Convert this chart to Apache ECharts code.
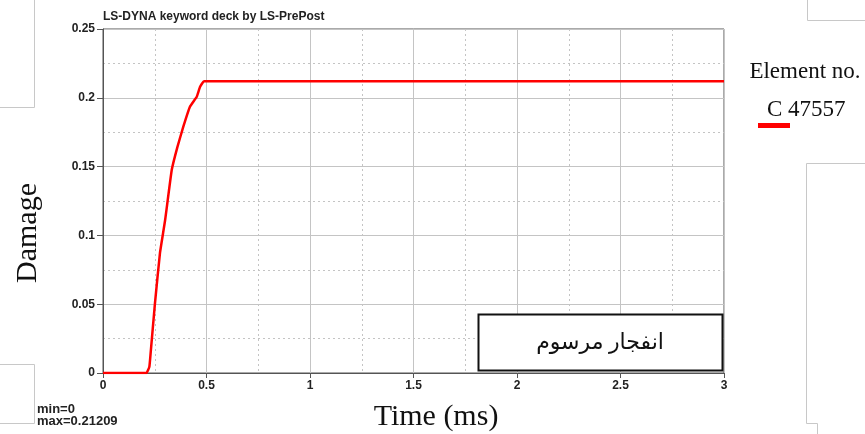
<!DOCTYPE html>
<html>
<head>
<meta charset="utf-8">
<script src="https://cdn.jsdelivr.net/npm/echarts@6/dist/echarts.min.js"></script>
<style>html,body{margin:0;padding:0;background:#fff}#c{width:865px;height:434px}</style>
</head>
<body>
<div id="c"></div>
<script>
// Data
const seriesName = 'C 47557';
const timeMs = [0, 0.21, 0.224, 0.230, 0.251, 0.275, 0.300, 0.332, 0.359, 0.388, 0.420, 0.453, 0.469, 0.488, 3];
const damage = [0, 0, 0.0046, 0.0143, 0.0506, 0.087, 0.111, 0.1475, 0.164, 0.179, 0.1935, 0.2008, 0.208, 0.21209, 0.21209];
const xTicks = { min: 0, max: 3, interval: 0.5 };
const yTicks = { min: 0, max: 0.25, interval: 0.05 };
const titleText = 'LS-DYNA keyword deck by LS-PrePost';
const xName = 'Time (ms)';
const yName = 'Damage';
const legendTitle = 'Element no.';
const boxText = 'انفجار مرسوم';
const minMaxText = ['min=0', 'max=0.21209'];

const points = timeMs.map((t, i) => [t, damage[i]]);
const chart = echarts.init(document.getElementById('c'), null, { renderer: 'canvas' });
const tickFont = { fontFamily: 'Liberation Sans, Arial, sans-serif', fontWeight: 'bold', fontSize: 12, color: '#222' };
const serif = "'Liberation Serif', 'Times New Roman', serif";
const faint = { stroke: '#c8c8c8', lineWidth: 1 };

chart.setOption({
  animation: false,
  backgroundColor: '#fff',
  grid: { left: 103, right: 141, top: 29, bottom: 61, show: true, borderColor: '#555', borderWidth: 1, backgroundColor: 'transparent' },
  xAxis: {
    type: 'value', min: xTicks.min, max: xTicks.max, interval: xTicks.interval,
    axisLine: { show: true, lineStyle: { color: '#555', width: 1 } },
    axisTick: { show: true, length: 5, lineStyle: { color: '#555' } },
    axisLabel: Object.assign({ margin: 7, formatter: v => String(v) }, tickFont),
    splitLine: { show: true, lineStyle: { color: '#c4c4c4', width: 1 } },
    minorTick: { show: false, splitNumber: 2 },
    minorSplitLine: { show: true, lineStyle: { color: '#c4c4c4', type: [2, 3], width: 1 } }
  },
  yAxis: {
    type: 'value', min: yTicks.min, max: yTicks.max, interval: yTicks.interval,
    axisLine: { show: true, lineStyle: { color: '#555', width: 1 } },
    axisTick: { show: true, length: 6, lineStyle: { color: '#555' } },
    axisLabel: Object.assign({ margin: 8, formatter: v => String(+v.toFixed(2)) }, tickFont),
    splitLine: { show: true, lineStyle: { color: '#c4c4c4', width: 1 } },
    minorTick: { show: false, splitNumber: 2 },
    minorSplitLine: { show: true, lineStyle: { color: '#c4c4c4', type: [2, 3], width: 1 } }
  },
  series: [{
    name: seriesName, type: 'line', data: points, showSymbol: false, smooth: 0.1,
    lineStyle: { color: '#ff0000', width: 2.5 }, z: 5
  }],
  graphic: [
    { type: 'text', left: 103, top: 11, style: { text: titleText, font: 'bold 12px Liberation Sans, Arial, sans-serif', fill: '#222' } },
    { type: 'text', x: 28, y: 233, rotation: Math.PI / 2, style: { text: yName, font: '30px ' + serif, fill: '#111', align: 'center', verticalAlign: 'middle' } },
    { type: 'text', x: 436, y: 417, style: { text: xName, font: '30px ' + serif, fill: '#111', align: 'center', verticalAlign: 'middle' } },
    { type: 'text', x: 37, y: 409, style: { text: minMaxText[0], font: 'bold 13px Liberation Sans, Arial, sans-serif', fill: '#222', verticalAlign: 'middle' } },
    { type: 'text', x: 37, y: 421, style: { text: minMaxText[1], font: 'bold 13px Liberation Sans, Arial, sans-serif', fill: '#222', verticalAlign: 'middle' } },
    { type: 'text', x: 805, y: 72, style: { text: legendTitle, font: '23px ' + serif, fill: '#111', align: 'center', verticalAlign: 'middle' } },
    { type: 'text', x: 767, y: 110, style: { text: seriesName, font: '23px ' + serif, fill: '#111', verticalAlign: 'middle' } },
    { type: 'line', shape: { x1: 758, y1: 125.5, x2: 790, y2: 125.5 }, style: { stroke: '#ff0000', lineWidth: 5 } },
    { type: 'rect', shape: { x: 478.5, y: 314.5, width: 244, height: 56 }, style: { fill: '#fff', stroke: '#111', lineWidth: 2 }, z: 10 },
    { type: 'text', x: 600, y: 343, style: { text: boxText, font: "22px 'Liberation Serif', 'DejaVu Sans', serif", fill: '#111', align: 'center', verticalAlign: 'middle' }, z: 11 },
    // faint slide frame remnants
    { type: 'polyline', shape: { points: [[34.5, 0], [34.5, 107.5], [0, 107.5]] }, style: faint },
    { type: 'polyline', shape: { points: [[0, 364.5], [34.5, 364.5], [34.5, 423.5], [0, 423.5]] }, style: faint },
    { type: 'polyline', shape: { points: [[807.5, 0], [807.5, 20.5], [865, 20.5]] }, style: faint },
    { type: 'polyline', shape: { points: [[865, 163.5], [806.5, 163.5], [806.5, 423.5], [817.5, 423.5], [817.5, 434]] }, style: faint }
  ]
});
</script>
</body>
</html>
